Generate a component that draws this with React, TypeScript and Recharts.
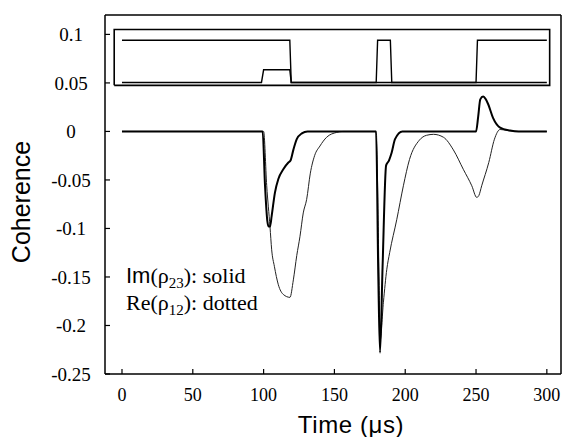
import { LineChart, Line, XAxis, YAxis } from "recharts";

// Im(rho23), drawn solid
const timeSolid = [
  0, 99.3, 101, 102.6, 103.5, 104.5, 105.7, 108, 110.4, 113.9, 117.5, 119, 121,
  123.4, 127, 131, 179.4, 181, 182.2, 184, 186.5, 188.5, 190.4, 192.8, 198, 250,
  251.5, 253, 255, 256.5, 258.6, 262, 267, 274, 280, 300,
];
const imRho23 = [
  0, 0, -0.056, -0.092, -0.098, -0.098, -0.087, -0.063, -0.049, -0.039, -0.032,
  -0.03, -0.019, -0.008, -0.002, 0, 0, -0.15, -0.228, -0.14, -0.035, -0.03,
  -0.022, -0.008, 0, 0, 0.015, 0.033, 0.036, 0.034, 0.028, 0.014, 0.004, 0.001,
  0, 0,
];

// Re(rho12), the thin one
const timeDotted = [
  0, 100, 102.2, 104.5, 105.7, 107.6, 110.4, 113.9, 118.6, 121, 123.4, 125.7, 128,
  130.4, 133, 136, 139.8, 144.5, 151.6, 156, 179.5, 181.5, 182.3, 184.6, 187, 189,
  194, 198.7, 203, 210, 215, 220, 227, 234, 241, 247, 250.5, 252, 254, 259, 263,
  267, 272, 280, 300,
];
const reRho12 = [
  0, 0, -0.056, -0.098, -0.122, -0.139, -0.158, -0.168, -0.171, -0.153, -0.128,
  -0.108, -0.084, -0.07, -0.043, -0.025, -0.015, -0.006, -0.001, 0, 0, -0.15,
  -0.215, -0.176, -0.142, -0.125, -0.091, -0.056, -0.029, -0.009, -0.004, -0.003,
  -0.006, -0.019, -0.039, -0.056, -0.068, -0.066, -0.056, -0.032, -0.008, 0.002,
  0.001, 0, 0,
];

// pulse sequence inset at the top
const boxTime = [-5.5, -5.5, 302, 302, -5.5];
const boxValue = [0.0475, 0.105, 0.105, 0.0475, 0.0475];
const pulseATime = [0, 118.5, 119.5, 179.5, 180.5, 189.5, 190.5, 250, 251, 300];
const pulseAValue = [
  0.094, 0.094, 0.0505, 0.0505, 0.094, 0.094, 0.0505, 0.0505, 0.094, 0.094,
];
const pulseBTime = [0, 98.5, 100, 118.5, 119.5, 300];
const pulseBValue = [0.0505, 0.0505, 0.0635, 0.0635, 0.0505, 0.0505];

const xTicks = [0, 50, 100, 150, 200, 250, 300];
const yTicks = [-0.25, -0.2, -0.15, -0.1, -0.05, 0, 0.05, 0.1];

const zip = (ts: number[], vs: number[]) => ts.map((t, i) => ({ t, v: vs[i] }));

const solidData = zip(timeSolid, imRho23);
const dottedData = zip(timeDotted, reRho12);
const boxData = zip(boxTime, boxValue);
const pulseAData = zip(pulseATime, pulseAValue);
const pulseBData = zip(pulseBTime, pulseBValue);

const X_DOMAIN: [number, number] = [-12, 310];
const Y_DOMAIN: [number, number] = [-0.25, 0.12];
const serif = "Liberation Serif";
const sans = "Liberation Sans";
const axisLine = { stroke: "#000", strokeWidth: 1.5 };
const tickLine = { stroke: "#000", strokeWidth: 1.2 };

export default function App() {
  return (
    <div
      style={{
        position: "absolute",
        left: 0,
        top: 0,
        width: 567,
        height: 437,
        background: "#fff",
      }}
    >
      <LineChart
        width={567}
        height={437}
        margin={{ top: 14, right: 5, bottom: 0, left: 0 }}
      >
        <XAxis
          xAxisId="main"
          dataKey="t"
          type="number"
          domain={X_DOMAIN}
          ticks={xTicks}
          height={63}
          tickSize={-5}
          tickMargin={19}
          axisLine={axisLine}
          tickLine={tickLine}
          tick={{ fill: "#000", fontSize: 18, fontFamily: serif }}
        />
        <XAxis
          xAxisId="top"
          orientation="top"
          dataKey="t"
          type="number"
          domain={X_DOMAIN}
          ticks={xTicks}
          height={1}
          tickSize={-5}
          axisLine={axisLine}
          tickLine={tickLine}
          tick={false}
        />
        <YAxis
          yAxisId="main"
          type="number"
          domain={Y_DOMAIN}
          ticks={yTicks}
          width={105}
          tickSize={-5}
          tickMargin={39}
          axisLine={axisLine}
          tickLine={tickLine}
          tick={{
            fill: "#000",
            fontSize: 19,
            fontFamily: serif,
            textAnchor: "middle",
          }}
        />
        <YAxis
          yAxisId="right"
          orientation="right"
          type="number"
          domain={Y_DOMAIN}
          ticks={yTicks}
          width={1}
          tickSize={-5}
          axisLine={axisLine}
          tickLine={tickLine}
          tick={false}
        />

        <Line
          xAxisId="main"
          yAxisId="main"
          data={boxData}
          dataKey="v"
          type="linear"
          stroke="#000"
          strokeWidth={1.6}
          dot={false}
          isAnimationActive={false}
        />
        <Line
          xAxisId="main"
          yAxisId="main"
          data={pulseBData}
          dataKey="v"
          type="linear"
          stroke="#000"
          strokeWidth={1.4}
          dot={false}
          isAnimationActive={false}
        />
        <Line
          xAxisId="main"
          yAxisId="main"
          data={pulseAData}
          dataKey="v"
          type="linear"
          stroke="#000"
          strokeWidth={1.4}
          dot={false}
          isAnimationActive={false}
        />
        <Line
          xAxisId="main"
          yAxisId="main"
          data={dottedData}
          dataKey="v"
          type="monotone"
          stroke="#222"
          strokeWidth={1}
          dot={false}
          isAnimationActive={false}
        />
        <Line
          xAxisId="main"
          yAxisId="main"
          data={solidData}
          dataKey="v"
          type="monotone"
          stroke="#000"
          strokeWidth={2}
          dot={false}
          isAnimationActive={false}
        />
      </LineChart>

      <svg
        width={567}
        height={437}
        style={{ position: "absolute", left: 0, top: 0, pointerEvents: "none" }}
      >
        <text
          transform="translate(30,202) rotate(-90)"
          textAnchor="middle"
          fontFamily={sans}
          fontSize={25}
          fill="#000"
        >
          Coherence
        </text>
        <text
          x={351}
          y={433}
          textAnchor="middle"
          fontFamily={sans}
          fontSize={24}
          letterSpacing={0.6}
          fill="#000"
        >
          Time (μs)
        </text>
        <text x={126} y={283} fontFamily={serif} fontSize={22} fill="#000">
          <tspan fontFamily={sans}>Im</tspan>(ρ
          <tspan fontSize={15} dy={5}>
            23
          </tspan>
          <tspan dy={-5}>): solid</tspan>
        </text>
        <text x={126} y={310} fontFamily={serif} fontSize={22} fill="#000">
          Re(ρ
          <tspan fontSize={15} dy={5}>
            12
          </tspan>
          <tspan dy={-5}>): dotted</tspan>
        </text>
      </svg>
    </div>
  );
}
